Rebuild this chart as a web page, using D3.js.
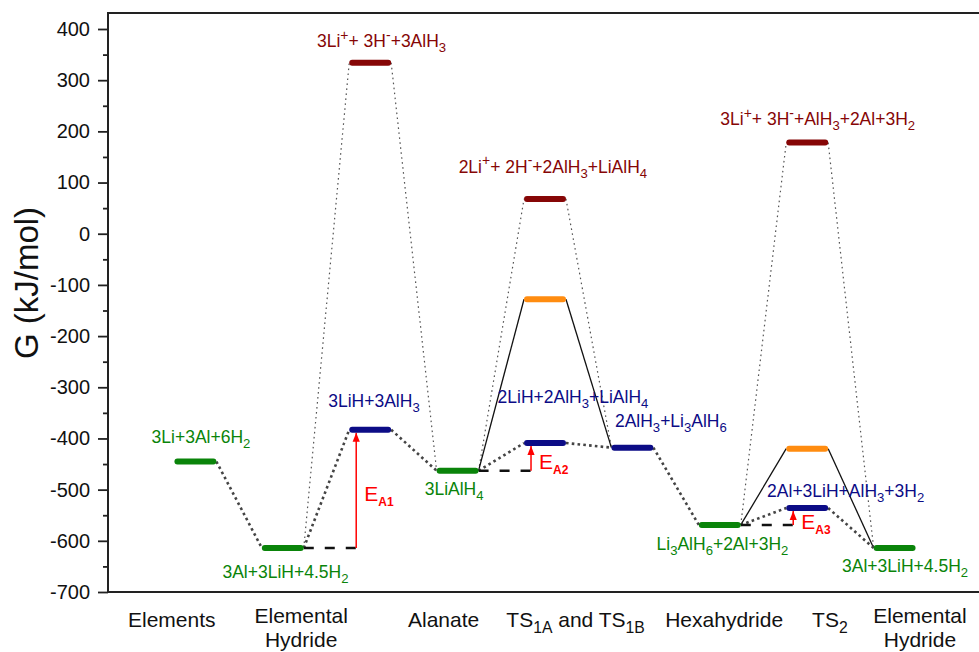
<!DOCTYPE html>
<html>
<head>
<meta charset="utf-8">
<script src="https://cdn.jsdelivr.net/npm/d3@7"></script>
<style>
  body { margin: 0; background: #fff; }
  text { font-family: "Liberation Sans", Arial, sans-serif; white-space: pre; }
</style>
</head>
<body>
<script>
// reaction stages along the x axis (1..9)
const stagePos = [1, 2, 3, 4, 5, 6, 7, 8, 9];
// main pathway free energies (kJ/mol)
const mainG = [-445, -614, -383, -463, -409, -418, -569, -536, -614];
const mainKind = ["stable", "stable", "inter", "stable", "inter", "inter", "stable", "inter", "stable"];
// ionic transition levels
const ionicPos = [3, 5, 8];
const ionicG = [334, 68, 178];
// orange transition levels
const tsPos = [5, 8];
const tsG = [-128, -420];
// activation energies
const eaNames = ["A1", "A2", "A3"];
const eaFrom = [-614, -463, -569];
const eaTo = [-383, -409, -536];
const eaPos = [2.84, 4.84, 7.84];

const categories = ["Elements", "Elemental\nHydride", "Alanate", "TS_{1A} and TS_{1B}", "Hexahydride", "TS_{2}", "Elemental\nHydride"];
const categoryPos = [0.73, 2.21, 3.84, 5.35, 7.05, 8.26, 9.29];

const yTicks = [-700, -600, -500, -400, -300, -200, -100, 0, 100, 200, 300, 400];

const levelLabels = [
  "3Li+3Al+6H_{2}", "3Al+3LiH+4.5H_{2}", "3LiH+3AlH_{3}", "3Li^{+}+ 3H^{-}+3AlH_{3}",
  "2Li^{+}+ 2H^{-}+2AlH_{3}+LiAlH_{4}", "2LiH+2AlH_{3}+LiAlH_{4}", "2AlH_{3}+Li_{3}AlH_{6}",
  "3LiAlH_{4}", "3Li^{+}+ 3H^{-}+AlH_{3}+2Al+3H_{2}", "2Al+3LiH+AlH_{3}+3H_{2}",
  "Li_{3}AlH_{6}+2Al+3H_{2}", "3Al+3LiH+4.5H_{2}"
];
const labelKind = ["stable", "stable", "inter", "ionic", "ionic", "inter", "inter", "stable", "ionic", "inter", "stable", "stable"];
// label anchor (stage units, kJ/mol)
const labelAt = [
  [1.064, -409], [2.03, -672], [3.043, -338], [3.13, 365],
  [5.09, 119], [5.32, -331], [6.44, -377], [3.96, -510],
  [8.12, 212], [8.44, -514], [7.03, -618], [9.12, -661]
];

const colors = { stable: "#0a840a", inter: "#0c0c86", ionic: "#860606", ts: "#ff8c10" };

const width = 979, height = 652;
const x = d3.scaleLinear().domain([0, 10]).range([108, 982]);
const y = d3.scaleLinear().domain([-700, 400]).range([592, 29]);
const half = 0.24;

const svg = d3.select("body").append("svg")
  .attr("width", width).attr("height", height);

svg.append("defs").append("marker")
  .attr("id", "ah").attr("markerUnits", "userSpaceOnUse")
  .attr("markerWidth", 9).attr("markerHeight", 9)
  .attr("refX", 10).attr("refY", 4).attr("orient", "auto")
  .attr("viewBox", "0 0 10 8")
  .append("path").attr("d", "M0,0L10,4L0,8Z").attr("fill", "#ff0000");

function rich(sel, str, fs) {
  const parts = str.match(/_\{[^}]*\}|\^\{[^}]*\}|[^_^]+/g);
  let shift = 0;
  parts.forEach(function (p) {
    let t = p, s = 0, size = fs;
    if (p[0] === "_") { t = p.slice(2, -1); s = 0.28 * fs; size = 0.75 * fs; }
    else if (p[0] === "^") { t = p.slice(2, -1); s = -0.42 * fs; size = 0.8 * fs; }
    sel.append("tspan").attr("dy", s - shift).attr("font-size", size).text(t);
    shift = s;
  });
}

// frame and axes
svg.append("line").attr("x1", 108).attr("x2", width).attr("y1", 13).attr("y2", 13)
  .attr("stroke", "#222").attr("stroke-width", 2);
svg.append("line").attr("x1", 108).attr("x2", width).attr("y1", y(-700)).attr("y2", y(-700))
  .attr("stroke", "#222").attr("stroke-width", 2);
svg.append("line").attr("x1", 108).attr("x2", 108).attr("y1", 12).attr("y2", y(-700) + 1)
  .attr("stroke", "#222").attr("stroke-width", 2);

const yAxis = svg.append("g").attr("transform", "translate(108,0)")
  .call(d3.axisLeft(y).tickValues(yTicks).tickSize(10).tickPadding(8)
    .tickFormat(function (d) { return String(d); }));
yAxis.select(".domain").remove();
yAxis.selectAll("line").attr("stroke", "#222").attr("stroke-width", 1.8);
yAxis.selectAll("text").attr("font-size", 20).attr("fill", "#111")
  .attr("font-family", "Liberation Sans, Arial, sans-serif");

const yMinor = svg.append("g").attr("transform", "translate(108,0)")
  .call(d3.axisLeft(y).tickValues(d3.range(-650, 400, 100)).tickSize(5).tickFormat(""));
yMinor.select(".domain").remove();
yMinor.selectAll("line").attr("stroke", "#222").attr("stroke-width", 1.8);

svg.append("text")
  .attr("transform", "translate(38,283) rotate(-90)")
  .attr("text-anchor", "middle").attr("font-size", 33).attr("fill", "#111")
  .text("G (kJ/mol)");

// category labels (two-line ones sit a little higher so both lines fit)
categories.forEach(function (c, i) {
  const lines = c.split("\n");
  lines.forEach(function (ln, j) {
    const base = lines.length === 1 ? 627 : 623 + j * 24;
    const t = svg.append("text")
      .attr("x", x(categoryPos[i])).attr("y", base)
      .attr("text-anchor", "middle").attr("fill", "#111");
    rich(t, ln, 21);
  });
});

function gAt(pos) { return mainG[stagePos.indexOf(pos)]; }
function link(p0, g0, p1, g1) {
  return [[x(p0 + half), y(g0)], [x(p1 - half), y(g1)]];
}
const line = d3.line();

// thin dotted links through ionic levels
ionicPos.forEach(function (p, i) {
  [link(p - 1, gAt(p - 1), p, ionicG[i]), link(p, ionicG[i], p + 1, gAt(p + 1))].forEach(function (seg) {
    svg.append("path").attr("d", line(seg)).attr("fill", "none")
      .attr("stroke", "#555").attr("stroke-width", 1.2).attr("stroke-dasharray", "1.6 3.4");
  });
});

// solid links through orange levels
tsPos.forEach(function (p, i) {
  [link(p - 1, gAt(p - 1), p, tsG[i]), link(p, tsG[i], p + 1, gAt(p + 1))].forEach(function (seg) {
    svg.append("path").attr("d", line(seg)).attr("fill", "none")
      .attr("stroke", "#111").attr("stroke-width", 1.3);
  });
});

// thick dotted main pathway
for (let i = 0; i < stagePos.length - 1; i++) {
  svg.append("path")
    .attr("d", line(link(stagePos[i], mainG[i], stagePos[i + 1], mainG[i + 1])))
    .attr("fill", "none").attr("stroke", "#444").attr("stroke-width", 2.6)
    .attr("stroke-dasharray", "2.6 3.2");
}

// dashed reference lines and activation arrows
eaPos.forEach(function (p, i) {
  const start = Math.floor(p);
  svg.append("line")
    .attr("x1", x(start + half)).attr("x2", x(p) + 6)
    .attr("y1", y(eaFrom[i])).attr("y2", y(eaFrom[i]))
    .attr("stroke", "#111").attr("stroke-width", 2.4).attr("stroke-dasharray", "10 11");
  svg.append("line")
    .attr("x1", x(p)).attr("x2", x(p))
    .attr("y1", y(eaFrom[i])).attr("y2", y(eaTo[i]) + 3)
    .attr("stroke", "#ff0000").attr("stroke-width", 1.5)
    .attr("marker-end", "url(#ah)");
  const mid = (y(eaFrom[i]) + y(eaTo[i])) / 2;
  const t = svg.append("text").attr("x", x(p) + 8).attr("y", mid + 12)
    .attr("fill", "#ff0000");
  t.append("tspan").attr("font-size", 21).text("E");
  t.append("tspan").attr("font-size", 12).attr("font-weight", "bold").attr("dy", 5).text(eaNames[i]);
});

// energy level bars
function bar(p, g, kind) {
  svg.append("rect")
    .attr("x", x(p - half)).attr("width", x(2 * half) - x(0))
    .attr("y", y(g) - 3).attr("height", 6).attr("rx", 3)
    .attr("fill", colors[kind]);
}
stagePos.forEach(function (p, i) { bar(p, mainG[i], mainKind[i]); });
ionicPos.forEach(function (p, i) { bar(p, ionicG[i], "ionic"); });
tsPos.forEach(function (p, i) { bar(p, tsG[i], "ts"); });

// level labels
levelLabels.forEach(function (s, i) {
  const t = svg.append("text")
    .attr("x", x(labelAt[i][0])).attr("y", y(labelAt[i][1]))
    .attr("text-anchor", "middle").attr("fill", colors[labelKind[i]]);
  rich(t, s, 17.5);
});
</script>
</body>
</html>
